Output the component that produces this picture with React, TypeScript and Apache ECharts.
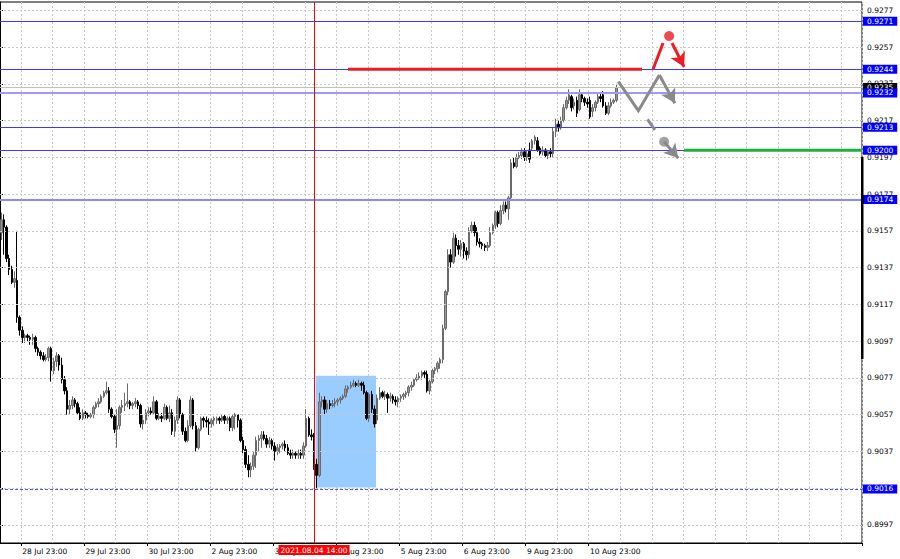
import React, { useEffect, useRef } from "react";
import * as echarts from "echarts";

// ---- hourly bars ----
const open = [
  0.9156,0.9163,0.9159,0.9142,0.9136,0.9129,0.9130,0.9110,0.9103,0.9099,
  0.9100,0.9099,0.9098,0.9099,0.9093,0.9091,0.9089,0.9087,0.9088,0.9093,
  0.9081,0.9086,0.9089,0.9084,0.9076,0.9070,0.9060,0.9062,0.9065,0.9063,
  0.9058,0.9055,0.9058,0.9057,0.9056,0.9057,0.9061,0.9063,0.9064,0.9067,
  0.9069,0.9070,0.9060,0.9056,0.9049,0.9051,0.9061,0.9062,0.9063,0.9064,
  0.9062,0.9063,0.9064,0.9062,0.9052,0.9054,0.9058,0.9059,0.9058,0.9064,
  0.9055,0.9056,0.9055,0.9061,0.9055,0.9058,0.9048,0.9054,0.9065,0.9057,
  0.9048,0.9043,0.9051,0.9065,0.9051,0.9039,0.9049,0.9055,0.9054,0.9053,
  0.9052,0.9054,0.9054,0.9055,0.9054,0.9056,0.9054,0.9055,0.9050,0.9056,
  0.9057,0.9054,0.9043,0.9038,0.9030,0.9027,0.9029,0.9035,0.9043,0.9044,
  0.9046,0.9044,0.9041,0.9043,0.9040,0.9037,0.9039,0.9040,0.9041,0.9039,
  0.9036,0.9035,0.9036,0.9035,0.9036,0.9035,0.9040,0.9055,0.9046,0.9045,
  0.9030,0.9024,0.9064,0.9065,0.9060,0.9063,0.9062,0.9063,0.9064,0.9065,
  0.9066,0.9067,0.9071,0.9072,0.9073,0.9074,0.9073,0.9074,0.9073,0.9069,
  0.9055,0.9068,0.9060,0.9054,0.9066,0.9069,0.9067,0.9068,0.9066,0.9067,
  0.9065,0.9064,0.9066,0.9067,0.9068,0.9069,0.9072,0.9073,0.9076,0.9077,
  0.9078,0.9080,0.9079,0.9070,0.9075,0.9081,0.9082,0.9085,0.9087,0.9104,
  0.9124,0.9144,0.9140,0.9153,0.9149,0.9147,0.9150,0.9146,0.9144,0.9157,
  0.9160,0.9156,0.9151,0.9150,0.9149,0.9148,0.9149,0.9156,0.9160,0.9167,
  0.9161,0.9168,0.9171,0.9169,0.9175,0.9194,0.9192,0.9197,0.9198,0.9200,
  0.9197,0.9201,0.9202,0.9206,0.9206,0.9202,0.9200,0.9201,0.9198,0.9200,
  0.9199,0.9211,0.9215,0.9213,0.9217,0.9224,0.9228,0.9230,0.9225,0.9228,
  0.9223,0.9231,0.9229,0.9227,0.9228,0.9222,0.9224,0.9227,0.9230,0.9231,
  0.9225,0.9221,0.9225,0.9227,0.9228,
];
const close = [
  0.9163,0.9159,0.9142,0.9136,0.9129,0.9131,0.9110,0.9103,0.9099,0.9100,
  0.9099,0.9098,0.9099,0.9093,0.9091,0.9089,0.9087,0.9088,0.9093,0.9081,
  0.9086,0.9089,0.9084,0.9076,0.9070,0.9060,0.9062,0.9065,0.9063,0.9058,
  0.9055,0.9058,0.9057,0.9056,0.9057,0.9061,0.9063,0.9064,0.9067,0.9069,
  0.9070,0.9060,0.9056,0.9049,0.9051,0.9061,0.9062,0.9063,0.9064,0.9062,
  0.9063,0.9064,0.9062,0.9052,0.9054,0.9058,0.9059,0.9058,0.9064,0.9055,
  0.9056,0.9055,0.9061,0.9055,0.9058,0.9048,0.9054,0.9065,0.9057,0.9048,
  0.9043,0.9051,0.9065,0.9051,0.9039,0.9049,0.9055,0.9054,0.9053,0.9052,
  0.9054,0.9055,0.9055,0.9054,0.9056,0.9054,0.9055,0.9050,0.9056,0.9057,
  0.9054,0.9043,0.9038,0.9030,0.9027,0.9029,0.9035,0.9043,0.9044,0.9046,
  0.9044,0.9041,0.9043,0.9040,0.9037,0.9039,0.9040,0.9041,0.9039,0.9036,
  0.9035,0.9036,0.9035,0.9036,0.9035,0.9040,0.9055,0.9046,0.9045,0.9030,
  0.9024,0.9064,0.9065,0.9060,0.9063,0.9062,0.9063,0.9064,0.9065,0.9066,
  0.9067,0.9071,0.9072,0.9073,0.9074,0.9073,0.9074,0.9073,0.9069,0.9055,
  0.9068,0.9060,0.9052,0.9066,0.9069,0.9067,0.9068,0.9066,0.9067,0.9065,
  0.9064,0.9066,0.9067,0.9068,0.9069,0.9072,0.9073,0.9076,0.9077,0.9078,
  0.9080,0.9079,0.9070,0.9075,0.9081,0.9082,0.9085,0.9087,0.9104,0.9124,
  0.9144,0.9140,0.9153,0.9149,0.9147,0.9150,0.9146,0.9144,0.9157,0.9160,
  0.9156,0.9151,0.9150,0.9149,0.9148,0.9149,0.9156,0.9160,0.9167,0.9161,
  0.9168,0.9171,0.9169,0.9175,0.9194,0.9192,0.9197,0.9198,0.9200,0.9197,
  0.9199,0.9196,0.9206,0.9208,0.9201,0.9199,0.9201,0.9198,0.9200,0.9199,
  0.9211,0.9215,0.9213,0.9217,0.9224,0.9228,0.9231,0.9224,0.9227,0.9221,
  0.9231,0.9229,0.9227,0.9226,0.9219,0.9224,0.9227,0.9230,0.9229,0.9225,
  0.9221,0.9225,0.9227,0.9228,0.9235,
];
const low = [
  0.9152,0.9144,0.9140,0.9133,0.9128,0.9126,0.9107,0.9100,0.9096,0.9096,
  0.9097,0.9095,0.9095,0.9091,0.9089,0.9087,0.9086,0.9086,0.9086,0.9075,
  0.9079,0.9083,0.9081,0.9074,0.9068,0.9057,0.9057,0.9060,0.9061,0.9057,
  0.9054,0.9054,0.9055,0.9055,0.9055,0.9055,0.9060,0.9061,0.9063,0.9066,
  0.9068,0.9058,0.9055,0.9047,0.9039,0.9049,0.9058,0.9059,0.9061,0.9060,
  0.9060,0.9061,0.9060,0.9050,0.9049,0.9052,0.9056,0.9057,0.9057,0.9054,
  0.9054,0.9053,0.9054,0.9054,0.9053,0.9046,0.9045,0.9052,0.9055,0.9046,
  0.9042,0.9042,0.9050,0.9049,0.9037,0.9038,0.9048,0.9050,0.9050,0.9046,
  0.9050,0.9051,0.9052,0.9052,0.9053,0.9052,0.9052,0.9048,0.9048,0.9049,
  0.9050,0.9042,0.9036,0.9028,0.9023,0.9023,0.9027,0.9028,0.9037,0.9039,
  0.9043,0.9039,0.9039,0.9038,0.9032,0.9035,0.9036,0.9038,0.9037,0.9035,
  0.9033,0.9033,0.9033,0.9033,0.9033,0.9033,0.9039,0.9045,0.9043,0.9027,
  0.9017,0.9023,0.9061,0.9057,0.9058,0.9060,0.9061,0.9061,0.9062,0.9063,
  0.9065,0.9066,0.9069,0.9071,0.9072,0.9072,0.9072,0.9070,0.9068,0.9054,
  0.9053,0.9058,0.9050,0.9052,0.9065,0.9066,0.9065,0.9058,0.9064,0.9063,
  0.9062,0.9061,0.9064,0.9065,0.9066,0.9067,0.9070,0.9072,0.9075,0.9076,
  0.9076,0.9077,0.9069,0.9068,0.9074,0.9079,0.9080,0.9082,0.9085,0.9103,
  0.9122,0.9137,0.9139,0.9143,0.9144,0.9143,0.9142,0.9141,0.9142,0.9156,
  0.9154,0.9149,0.9148,0.9147,0.9146,0.9146,0.9148,0.9155,0.9158,0.9159,
  0.9160,0.9166,0.9167,0.9163,0.9174,0.9191,0.9191,0.9196,0.9196,0.9195,
  0.9195,0.9194,0.9201,0.9204,0.9200,0.9198,0.9198,0.9197,0.9196,0.9197,
  0.9197,0.9208,0.9211,0.9212,0.9216,0.9223,0.9226,0.9222,0.9223,0.9219,
  0.9222,0.9227,0.9225,0.9224,0.9218,0.9219,0.9222,0.9226,0.9227,0.9224,
  0.9220,0.9220,0.9224,0.9226,0.9227,
];
const high = [
  0.9167,0.9166,0.9160,0.9144,0.9138,0.9135,0.9157,0.9111,0.9105,0.9101,
  0.9101,0.9100,0.9101,0.9100,0.9094,0.9092,0.9091,0.9090,0.9094,0.9094,
  0.9088,0.9091,0.9090,0.9088,0.9078,0.9072,0.9065,0.9067,0.9066,0.9064,
  0.9061,0.9060,0.9059,0.9058,0.9058,0.9062,0.9064,0.9066,0.9068,0.9070,
  0.9075,0.9072,0.9061,0.9057,0.9060,0.9062,0.9065,0.9069,0.9074,0.9065,
  0.9064,0.9066,0.9065,0.9063,0.9057,0.9060,0.9061,0.9061,0.9067,0.9065,
  0.9058,0.9058,0.9063,0.9062,0.9062,0.9060,0.9056,0.9067,0.9066,0.9058,
  0.9050,0.9054,0.9067,0.9066,0.9053,0.9050,0.9056,0.9056,0.9056,0.9055,
  0.9055,0.9056,0.9056,0.9056,0.9057,0.9057,0.9056,0.9056,0.9057,0.9058,
  0.9057,0.9055,0.9045,0.9040,0.9035,0.9031,0.9037,0.9045,0.9046,0.9048,
  0.9048,0.9046,0.9045,0.9044,0.9042,0.9041,0.9041,0.9042,0.9043,0.9041,
  0.9038,0.9038,0.9037,0.9038,0.9038,0.9042,0.9060,0.9056,0.9049,0.9047,
  0.9033,0.9069,0.9067,0.9067,0.9065,0.9065,0.9065,0.9066,0.9066,0.9067,
  0.9068,0.9073,0.9073,0.9075,0.9076,0.9075,0.9076,0.9075,0.9075,0.9070,
  0.9069,0.9070,0.9062,0.9068,0.9072,0.9070,0.9070,0.9069,0.9069,0.9068,
  0.9067,0.9067,0.9068,0.9069,0.9070,0.9073,0.9075,0.9077,0.9079,0.9080,
  0.9081,0.9081,0.9081,0.9076,0.9082,0.9083,0.9086,0.9088,0.9106,0.9125,
  0.9147,0.9147,0.9156,0.9155,0.9152,0.9152,0.9151,0.9148,0.9159,0.9162,
  0.9162,0.9159,0.9153,0.9151,0.9150,0.9151,0.9159,0.9161,0.9168,0.9168,
  0.9171,0.9173,0.9173,0.9176,0.9196,0.9197,0.9199,0.9200,0.9202,0.9202,
  0.9201,0.9205,0.9207,0.9209,0.9208,0.9203,0.9203,0.9202,0.9201,0.9202,
  0.9213,0.9218,0.9217,0.9219,0.9226,0.9230,0.9234,0.9231,0.9229,0.9230,
  0.9234,0.9232,0.9230,0.9229,0.9230,0.9226,0.9228,0.9232,0.9232,0.9233,
  0.9227,0.9227,0.9229,0.9229,0.9237,
];

// ---- axes ----
const slotCount = 328; // bar slots across the chart, incl. empty right-hand shift
const xLabelIndex = [8, 32, 56, 80, 104, 128, 152, 176, 200, 224];
const xLabels = [
  "28 Jul 23:00", "29 Jul 23:00", "30 Jul 23:00", "2 Aug 23:00", "3 Aug 23:00",
  "4 Aug 23:00", "5 Aug 23:00", "6 Aug 23:00", "9 Aug 23:00", "10 Aug 23:00",
];
const xGridStart = 8;
const xGridStep = 12;
const yTicks = [
  0.8997, 0.9017, 0.9037, 0.9057, 0.9077, 0.9097, 0.9117, 0.9137,
  0.9157, 0.9177, 0.9197, 0.9217, 0.9237, 0.9257, 0.9277,
];
const yMin = 0.89872;
const yMax = 0.92815;

// ---- horizontal levels ----
const levelPrices = [0.9271, 0.92449, 0.9232, 0.92134, 0.92009, 0.9174, 0.90166];
const levelLabels = ["0.9271", "0.9244", "0.9232", "0.9213", "0.9200", "0.9174", "0.9016"];
const bidPrice = 0.9235;
const bidLabel = "0.9235";
const crossBar = 119;
const crossLabel = "2021.08.04 14:00";

// ---- analysis drawings: [bar position, price] ----
const zoneBox = [[120.1, 0.90782], [143.1, 0.90174]];
const redLevelLine = [[132.4, 0.92449], [244.3, 0.92449]];
const redUpStroke = [[248.5, 0.92449], [252.3, 0.92592]];
const redDot = [254.6, 0.9263];
const redDownArrow = [[255.7, 0.92592], [260.3, 0.92462]];
const grayPath = [[235.3, 0.92382], [242.9, 0.92224], [250.9, 0.92418]];
const grayPathArrow = [[250.9, 0.92418], [256.8, 0.92264]];
const grayDash = [[246.4, 0.92176], [249.2, 0.92119]];
const grayDot = [252.7, 0.92055];
const grayDotArrow = [[252.7, 0.92055], [258.1, 0.91965]];
const greenTarget = [[260.3, 0.92009], [328, 0.92009]];

// ---- styles ----
const FONT = "DejaVu Sans";
const FS = 7.5;
const RED = "#ee1c24";
const GRAY = "#8a8a8a";
const GREEN = "#1fae3f";
const levelStyles = [
  { color: "#3a3aff", width: 1, type: "solid" },
  { color: "#3a3aff", width: 1, type: "solid" },
  { color: "#9a9aff", width: 2, type: "solid" },
  { color: "#3a3aff", width: 1, type: "solid" },
  { color: "#3a3aff", width: 1, type: "solid" },
  { color: "#8a8aff", width: 2, type: "solid" },
  { color: "#5050ff", width: 1, type: [3, 2] },
];

export default function App() {
  const ref = useRef<HTMLDivElement>(null);

  useEffect(() => {
    if (!ref.current) return;
    const chart = echarts.init(ref.current, undefined, { renderer: "svg" });

    const cats = Array.from({ length: slotCount }, (_, i) => String(i));
    const labelMap = new Map<number, string>();
    xLabelIndex.forEach((idx, k) => labelMap.set(idx, xLabels[k]));
    const candles = open.map((o, i) => [o, close[i], low[i], high[i]]);

    const arrowSeg = (seg: number[][], color: string) => [
      { coord: seg[0], symbol: "none", lineStyle: { color, width: 3, type: "solid" } },
      { coord: seg[1], symbol: "arrow", symbolSize: [12, 14] },
    ];

    const boxLabel = (text: string, bg: string) => ({
      show: true, position: "end", formatter: text, distance: 1,
      color: "#fff", backgroundColor: bg, padding: [1, 4, 0, 4],
      fontSize: FS, fontFamily: FONT, lineHeight: 8,
    });

    const option: any = {
      animation: false,
      backgroundColor: "#ffffff",
      grid: {
        left: 0, top: 2, right: 38, bottom: 16,
        show: true, borderColor: "#000", borderWidth: 1, backgroundColor: "transparent",
      },
      xAxis: [
        {
          type: "category",
          data: cats,
          boundaryGap: true,
          axisLine: { show: true, onZero: false, lineStyle: { color: "#000", width: 1 } },
          axisTick: {
            show: true, length: 3, lineStyle: { color: "#000" },
            interval: (i: number) => labelMap.has(i),
          },
          axisLabel: {
            show: true,
            interval: (i: number) => labelMap.has(i),
            formatter: (_v: string, i: number) => labelMap.get(i) ?? "",
            align: "left",
            color: "#000",
            fontSize: FS,
            fontFamily: FONT,
            margin: 4,
          },
          splitLine: {
            show: true,
            interval: (i: number) => i >= xGridStart && (i - xGridStart) % xGridStep === 0,
            lineStyle: { color: "#c8c8c8", type: [2, 2], width: 1 },
          },
        },
        { type: "value", min: 0, max: slotCount, show: false },
      ],
      yAxis: {
        type: "value",
        position: "right",
        min: yMin,
        max: yMax,
        axisLine: { show: true, lineStyle: { color: "#000" } },
        axisTick: { show: true, customValues: yTicks, length: 3, lineStyle: { color: "#000" } },
        axisLabel: {
          show: true,
          customValues: yTicks,
          formatter: (v: number) => v.toFixed(4),
          color: "#000",
          fontSize: FS,
          fontFamily: FONT,
          margin: 5,
        },
        splitLine: { show: false },
      },
      series: [
        // horizontal dotted grid
        {
          type: "line", data: [], z: 1, silent: true, clip: false,
          markLine: {
            silent: true, precision: 6, symbol: ["none", "none"], label: { show: false },
            lineStyle: { color: "#c8c8c8", type: [2, 2], width: 1 },
            data: yTicks.map((v) => ({ yAxis: v })),
          },
        },
        // blue zone
        {
          type: "line", xAxisIndex: 1, data: [], z: 2, silent: true,
          markArea: {
            silent: true,
            itemStyle: { color: "#99ccff", opacity: 1 },
            data: [[{ coord: zoneBox[0] }, { coord: zoneBox[1] }]],
          },
        },
        // candles
        {
          type: "candlestick",
          data: candles,
          barWidth: 2,
          z: 3,
          silent: true,
          itemStyle: {
            color: "#959595", color0: "#000000",
            borderColor: "#6a6a6a", borderColor0: "#000000", borderWidth: 1,
          },
        },
        // bid line
        {
          type: "line", data: [], z: 4, silent: true, clip: false,
          markLine: {
            silent: true, precision: 6, symbol: ["none", "none"],
            data: [{
              yAxis: bidPrice,
              lineStyle: { color: "#c0c0c0", width: 1, type: "solid" },
              label: boxLabel(bidLabel, "#000"),
            }],
          },
        },
        // levels
        {
          type: "line", data: [], z: 5, silent: true, clip: false,
          markLine: {
            silent: true, precision: 6, symbol: ["none", "none"],
            data: levelPrices.map((v, k) => ({
              yAxis: v,
              lineStyle: levelStyles[k],
              label: boxLabel(levelLabels[k], "#0000ff"),
            })),
          },
        },
        // crosshair
        {
          type: "line", data: [], z: 6, silent: true, clip: false,
          markLine: {
            silent: true, precision: 6, symbol: ["none", "none"],
            data: [{
              xAxis: crossBar,
              lineStyle: { color: "#ff0000", width: 1, type: "solid" },
              label: {
                show: true, position: "start", formatter: crossLabel, distance: 2,
                color: "#fff", backgroundColor: "#ff0000", padding: [1, 2, 0, 2],
                fontSize: FS, fontFamily: FONT, lineHeight: 9,
              },
            }],
          },
        },
        // drawings
        {
          type: "line", xAxisIndex: 1, data: redLevelLine, symbol: "none", z: 7, silent: true,
          lineStyle: { color: RED, width: 3 },
        },
        {
          type: "line", xAxisIndex: 1, data: redUpStroke, symbol: "none", z: 7, silent: true,
          lineStyle: { color: RED, width: 3 },
        },
        {
          type: "line", xAxisIndex: 1, data: grayPath, symbol: "none", z: 7, silent: true,
          lineStyle: { color: GRAY, width: 3, join: "miter" },
        },
        {
          type: "line", xAxisIndex: 1, data: grayDash, symbol: "none", z: 7, silent: true,
          lineStyle: { color: GRAY, width: 3 },
        },
        {
          type: "line", xAxisIndex: 1, data: greenTarget, symbol: "none", z: 7, silent: true,
          lineStyle: { color: GREEN, width: 3 },
        },
        {
          type: "line", xAxisIndex: 1, data: [], z: 8, silent: true, clip: false,
          markLine: {
            silent: true, precision: 6, label: { show: false },
            data: [
              arrowSeg(redDownArrow, RED),
              arrowSeg(grayPathArrow, GRAY),
              arrowSeg(grayDotArrow, GRAY),
            ],
          },
        },
        {
          type: "scatter", xAxisIndex: 1, z: 9, silent: true,
          symbolSize: 10,
          data: [
            { value: redDot, itemStyle: { color: RED } },
            { value: grayDot, itemStyle: { color: GRAY } },
          ],
        },
      ],
      graphic: [
        {
          type: "rect", z: 100, silent: true,
          shape: { x: 861, y: 157, width: 2.5, height: 202 },
          style: { fill: "#000" },
        },
      ],
    };

    chart.setOption(option);
    return () => chart.dispose();
  }, []);

  return (
    <div
      ref={ref}
      style={{ position: "absolute", left: 0, top: 0, width: 900, height: 559, background: "#fff" }}
    />
  );
}
